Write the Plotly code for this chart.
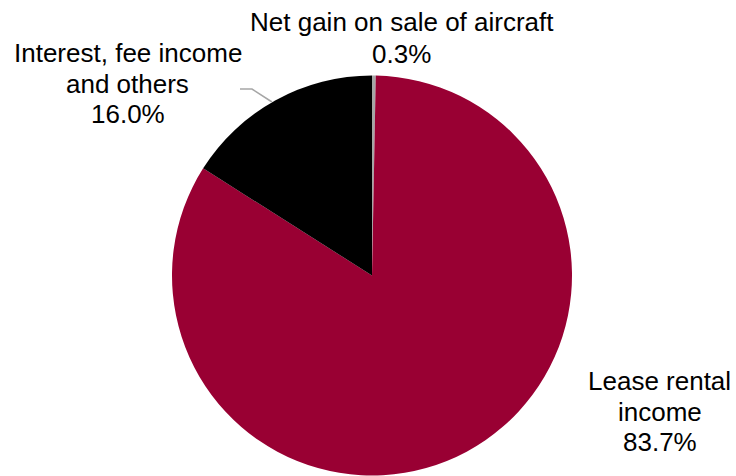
import plotly.graph_objects as go

labels = ["Net gain on sale of aircraft", "Lease rental income", "Interest, fee income and others"]
values = [0.3, 83.7, 16.0]
colors = ["#a6a6a6", "#990033", "#000000"]
label_lines = [
    ["Net gain on sale of aircraft", "0.3%"],
    ["Lease rental", "income", "83.7%"],
    ["Interest, fee income", "and others", "16.0%"],
]

W, H = 736, 476

def px(x):
    return x / W

def py(y):
    return 1 - y / H

fig = go.Figure(go.Pie(
    labels=labels, values=values, sort=False, direction="clockwise", rotation=0,
    marker=dict(colors=colors, line=dict(width=0)),
    textinfo="none", hoverinfo="label+percent", showlegend=False,
    domain=dict(x=[px(172), px(572)], y=[py(476), py(75)]),
))

font = dict(family="Liberation Sans, Arial, sans-serif", size=26, color="#000000")
# label block centre x, first-line middle y, line step
block_pos = [(401.5, 22, 31.5), (659.5, 381, 30.5), (127.5, 53, 30.5)]
for lines, (x, y0, dy) in zip(label_lines, block_pos):
    for i, t in enumerate(lines):
        fig.add_annotation(x=px(x), y=py(y0 + i * dy), xref="paper", yref="paper", text=t,
                           showarrow=False, xanchor="center", yanchor="middle",
                           align="center", font=font)

fig.add_shape(type="path", xref="paper", yref="paper",
              path=f"M {px(240)} {py(89)} L {px(252)} {py(89)} L {px(272)} {py(102)}",
              line=dict(color="#a6a6a6", width=1.5))

fig.update_layout(width=W, height=H, margin=dict(l=0, r=0, t=0, b=0),
                  paper_bgcolor="white", plot_bgcolor="white")
fig.write_html("out.html", config={"displayModeBar": False},
               post_script="document.body.style.margin='0px';")
